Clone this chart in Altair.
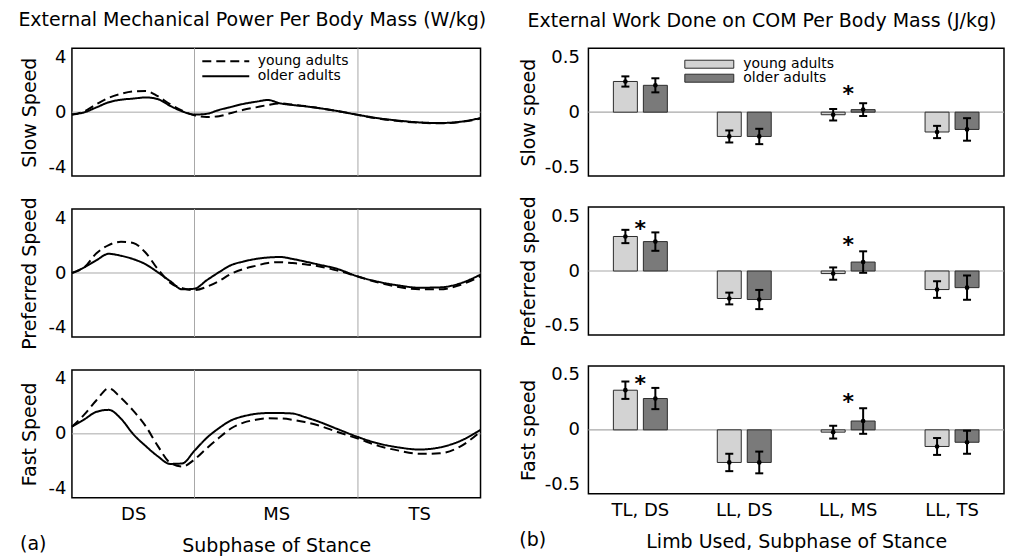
import altair as alt
import pandas as pd

# ---------------- data: external mechanical power (W/kg) ----------------
x_pct = [0, 3, 6, 9, 12, 15, 18, 21, 24, 27, 30, 33, 36, 39, 42, 45, 48, 51, 54,
         57, 60, 65, 70, 75, 80, 85, 90, 95, 100]

slow_young = [-0.15, 0.05, 0.5, 0.9, 1.15, 1.3, 1.33, 1.0, 0.5, 0.1, -0.2, -0.3, -0.25,
              -0.05, 0.15, 0.3, 0.45, 0.55, 0.47, 0.38, 0.27, 0.07, -0.17, -0.4, -0.56,
              -0.66, -0.7, -0.62, -0.4]
slow_older = [-0.15, -0.01, 0.3, 0.62, 0.78, 0.85, 0.92, 0.82, 0.4, 0.05, -0.15, -0.1, 0.14,
              0.33, 0.52, 0.65, 0.76, 0.55, 0.45, 0.37, 0.27, 0.07, -0.17, -0.38, -0.53,
              -0.64, -0.68, -0.6, -0.37]
pref_young = [0.0, 0.35, 1.23, 1.75, 1.95, 1.88, 1.28, 0.25, -0.6, -0.95, -1.07, -0.86, -0.5,
              -0.05, 0.25, 0.45, 0.63, 0.68, 0.62, 0.55, 0.44, 0.15, -0.22, -0.6, -0.88,
              -1.02, -1.02, -0.75, -0.2]
pref_older = [0.0, 0.35, 0.8, 1.2, 1.08, 0.87, 0.55, 0.05, -0.5, -1.02, -0.98, -0.45, 0.05,
              0.5, 0.72, 0.88, 0.97, 1.0, 0.88, 0.72, 0.55, 0.25, -0.22, -0.55, -0.78,
              -0.92, -0.9, -0.65, -0.1]
fast_young = [0.45, 1.2, 2.1, 2.85, 2.25, 1.45, 0.5, -0.75, -1.8, -2.05, -1.6, -0.9, -0.25,
              0.35, 0.7, 0.88, 0.97, 0.96, 0.88, 0.74, 0.55, 0.12, -0.3, -0.75, -1.05,
              -1.25, -1.22, -0.8, 0.15]
fast_older = [0.45, 0.9, 1.38, 1.5, 0.95, -0.02, -0.75, -1.4, -1.88, -1.85, -1.05, -0.25, 0.36,
              0.85, 1.1, 1.25, 1.3, 1.3, 1.27, 1.05, 0.8, 0.3, -0.2, -0.6, -0.85,
              -0.98, -0.85, -0.45, 0.25]

groups = ["young adults", "older adults"]
phase_labels = ["DS", "MS", "TS"]
phase_centers = [15, 50, 85]
phase_bounds = [30, 70]
zero_level = [0]

# ---------------- data: external work on COM (J/kg) ----------------
categories = ["TL, DS", "LL, DS", "LL, MS", "LL, TS"]
work_slow_young = [0.24, -0.19, -0.02, -0.155]
work_slow_young_sd = [0.04, 0.047, 0.045, 0.048]
work_slow_older = [0.21, -0.19, 0.02, -0.135]
work_slow_older_sd = [0.055, 0.06, 0.05, 0.088]
work_pref_young = [0.27, -0.215, -0.02, -0.145]
work_pref_young_sd = [0.052, 0.046, 0.048, 0.065]
work_pref_older = [0.23, -0.223, 0.07, -0.13]
work_pref_older_sd = [0.072, 0.075, 0.084, 0.095]
work_fast_young = [0.31, -0.255, -0.018, -0.13]
work_fast_young_sd = [0.068, 0.068, 0.05, 0.066]
work_fast_older = [0.245, -0.255, 0.069, -0.097]
work_fast_older_sd = [0.083, 0.085, 0.1, 0.09]

star_slow_cats = ["LL, MS"]
star_slow_y = [0.18]
star_pref_cats = ["TL, DS", "LL, MS"]
star_pref_y = [0.37, 0.24]
star_fast_cats = ["TL, DS", "LL, MS"]
star_fast_y = [0.40, 0.26]

left_speeds = ["Slow Speed", "Preferred Speed", "Fast Speed"]
right_speeds = ["Slow speed", "Preferred speed", "Fast speed"]

FONT = "DejaVu Sans"
GRAY = "#a8a8a8"
W_L, W_R, H = 409, 416, 128

label_expr = "''"
for c, l in reversed(list(zip(phase_centers, phase_labels))):
    label_expr = f"datum.value == {c} ? '{l}' : {label_expr}"


def left_panel(speed, young, older, first, last):
    n = len(x_pct)
    df = pd.DataFrame({"x": x_pct * 2, "y": young + older,
                       "group": [groups[0]] * n + [groups[1]] * n})
    if last:
        xaxis = alt.Axis(values=phase_centers, labelExpr=label_expr, ticks=False,
                         domain=False, grid=False, title="Subphase of Stance",
                         labelPadding=8, titlePadding=13, labelAngle=0)
    else:
        xaxis = alt.Axis(labels=False, ticks=False, domain=False, grid=False, title=None)
    xs = alt.X("x:Q", scale=alt.Scale(domain=[0, 100], nice=False, zero=False), axis=xaxis)
    ys = alt.Y("y:Q", scale=alt.Scale(domain=[-4, 4], nice=False),
               axis=alt.Axis(values=[-4, 0, 4], labelExpr="toString(datum.value)",
                             labelFlush=True, ticks=False, domain=False,
                             grid=False, title=speed, labelPadding=6, titlePadding=9))
    if first:
        legend = alt.Legend(title=None, orient="none", legendX=147, legendY=6,
                            symbolType="M-4.7,0H4.7", symbolSize=100, symbolStrokeWidth=2,
                            symbolStrokeColor="black", labelFontSize=14, labelOffset=25,
                            padding=0, rowPadding=1)
    else:
        legend = None
    lines = alt.Chart(df).mark_line(color="black", strokeWidth=2, interpolate="monotone").encode(
        x=xs, y=ys,
        strokeDash=alt.StrokeDash("group:N", sort=groups,
                                  scale=alt.Scale(domain=groups, range=[[9, 5], [1, 0]]),
                                  legend=legend),
        detail="group:N")
    zero = alt.Chart(pd.DataFrame({"y": zero_level})).mark_rule(
        color=GRAY, strokeWidth=1).encode(y=ys)
    bounds = alt.Chart(pd.DataFrame({"x": phase_bounds})).mark_rule(
        color=GRAY, strokeWidth=1).encode(x=xs)
    ch = alt.layer(zero, bounds, lines).properties(width=W_L, height=H)
    if last:
        ch = ch.properties(title=alt.TitleParams("(a)", orient="bottom", anchor="start",
                                                 frame="bounds", offset=-21, fontSize=19))
    return ch


def right_panel(speed, young, ysd, older, osd, star_cats, star_y, first, last):
    rows = []
    for g, vals, sds in [(groups[0], young, ysd), (groups[1], older, osd)]:
        for c, v, s in zip(categories, vals, sds):
            rows.append({"cat": c, "group": g, "mean": v, "lo": v - s, "hi": v + s})
    df = pd.DataFrame(rows)
    if last:
        xaxis = alt.Axis(labelAngle=0, ticks=False, domain=False, grid=False,
                         title="Limb Used, Subphase of Stance", labelPadding=8, titlePadding=13)
    else:
        xaxis = alt.Axis(labels=False, ticks=False, domain=False, grid=False, title=None)
    xs = alt.X("cat:N", sort=categories,
               scale=alt.Scale(domain=categories, paddingInner=0, paddingOuter=0), axis=xaxis)
    xo = alt.XOffset("group:N", sort=groups,
                     scale=alt.Scale(domain=groups, paddingInner=0.2, paddingOuter=0.833))
    yscale = alt.Scale(domain=[-0.5, 0.5], nice=False)
    yaxis = alt.Axis(values=[-0.5, 0, 0.5], labelExpr="toString(datum.value)",
                     labelFlush=True, ticks=False, domain=False,
                     grid=False, title=speed, labelPadding=9, titlePadding=6)
    if first:
        legend = alt.Legend(title=None, orient="none", legendX=114, legendY=9,
                            symbolType="M-4.9,-0.8H4.9V0.8H-4.9Z", symbolSize=100,
                            symbolStrokeColor="#2b2b2b", symbolStrokeWidth=1,
                            labelFontSize=14, labelOffset=27, padding=0, rowPadding=0)
    else:
        legend = None
    base = alt.Chart(df)
    zero = alt.Chart(pd.DataFrame({"mean": zero_level})).mark_rule(
        color=GRAY, strokeWidth=1.2).encode(y=alt.Y("mean:Q", scale=yscale, axis=yaxis))
    bars = base.mark_bar(stroke="#2b2b2b", strokeWidth=1).encode(
        x=xs, xOffset=xo,
        y=alt.Y("mean:Q", scale=yscale, axis=yaxis),
        color=alt.Color("group:N", sort=groups,
                        scale=alt.Scale(domain=groups, range=["#d3d3d3", "#7a7a7a"]),
                        legend=legend))
    err = base.mark_rule(color="black", strokeWidth=2).encode(
        x=xs, xOffset=xo, y=alt.Y("lo:Q", scale=yscale, axis=yaxis), y2="hi:Q")
    cap_lo = base.mark_tick(color="black", thickness=2, size=8, opacity=1).encode(
        x=xs, xOffset=xo, y=alt.Y("lo:Q", scale=yscale, axis=yaxis))
    cap_hi = base.mark_tick(color="black", thickness=2, size=8, opacity=1).encode(
        x=xs, xOffset=xo, y=alt.Y("hi:Q", scale=yscale, axis=yaxis))
    dot = base.mark_point(filled=True, color="black", size=22, opacity=1).encode(
        x=xs, xOffset=xo, y=alt.Y("mean:Q", scale=yscale, axis=yaxis))
    stars = alt.Chart(pd.DataFrame({"cat": star_cats, "mean": star_y})).mark_text(
        text="*", fontSize=22, fontWeight="bold", color="black", baseline="alphabetic",
        dy=12).encode(x=xs, y=alt.Y("mean:Q", scale=yscale, axis=yaxis))
    ch = alt.layer(zero, bars, err, cap_lo, cap_hi, dot, stars).properties(width=W_R, height=H)
    if last:
        ch = ch.properties(title=alt.TitleParams("(b)", orient="bottom", anchor="start",
                                                 frame="bounds", offset=-21, fontSize=19))
    return ch


left_col = alt.vconcat(
    left_panel(left_speeds[0], slow_young, slow_older, True, False),
    left_panel(left_speeds[1], pref_young, pref_older, False, False),
    left_panel(left_speeds[2], fast_young, fast_older, False, True),
    spacing=17,
    title=alt.TitleParams("External Mechanical Power Per Body Mass (W/kg)",
                          anchor="middle", frame="bounds", offset=17),
).resolve_scale(strokeDash="independent").resolve_legend(strokeDash="independent")

right_col = alt.vconcat(
    right_panel(right_speeds[0], work_slow_young, work_slow_young_sd, work_slow_older,
                work_slow_older_sd, star_slow_cats, star_slow_y, True, False),
    right_panel(right_speeds[1], work_pref_young, work_pref_young_sd, work_pref_older,
                work_pref_older_sd, star_pref_cats, star_pref_y, False, False),
    right_panel(right_speeds[2], work_fast_young, work_fast_young_sd, work_fast_older,
                work_fast_older_sd, star_fast_cats, star_fast_y, False, True),
    spacing=17,
    title=alt.TitleParams("External Work Done on COM Per Body Mass (J/kg)",
                          anchor="middle", frame="bounds", offset=17),
).resolve_scale(color="independent").resolve_legend(color="independent")

chart = alt.hconcat(left_col, right_col, spacing=32).properties(
    padding={"left": 10, "top": 2, "right": 0, "bottom": 0}
).configure(font=FONT).configure_view(
    stroke="black", strokeWidth=1.5
).configure_axis(
    labelFont=FONT, titleFont=FONT, labelFontSize=18, titleFontSize=19,
    labelColor="black", titleColor="black", titleFontWeight="normal"
).configure_title(
    font=FONT, fontSize=19, fontWeight="normal", color="black"
).configure_legend(
    labelFont=FONT, labelColor="black"
)

chart.save("out.html", embed_options={"renderer": "svg", "actions": False})
